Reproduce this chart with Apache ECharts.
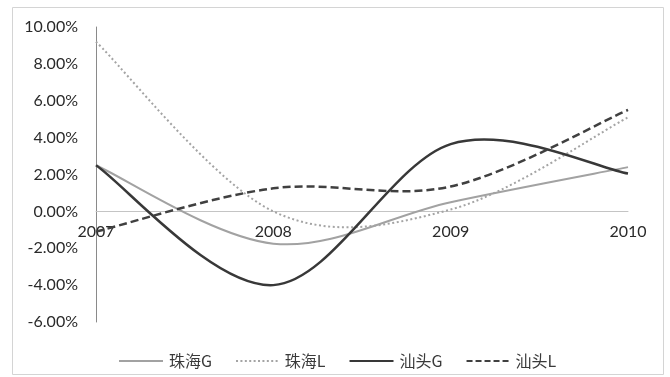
<!DOCTYPE html>
<html>
<head>
<meta charset="utf-8">
<script src="https://cdn.jsdelivr.net/npm/echarts@6/dist/echarts.min.js"></script>
<style>
  html, body { margin: 0; padding: 0; background: #fff; }
  #chart { width: 670px; height: 377px; }
</style>
</head>
<body>
<div id="chart"></div>
<script>
// Years on the category axis
const years = ['2007', '2008', '2009', '2010'];
// Growth rates, in percent
const zhuhaiG = [2.5, -1.75, 0.5, 2.4];
const zhuhaiL = [9.2, 0.0, 0.1, 5.1];
const shantouG = [2.5, -4.0, 3.65, 2.05];
const shantouL = [-1.1, 1.25, 1.35, 5.5];
// Value axis range and step
const yMin = -6, yMax = 10, yStep = 2;

const font = '"Lato", "Noto Sans CJK SC", sans-serif';
const cjkFont = '"Noto Sans CJK SC", "Lato", sans-serif';

const chart = echarts.init(document.getElementById('chart'), null, { renderer: 'canvas' });

// Cardinal (Catmull-Rom) spline through the projected points, allowing the
// curve to swing past the data points the way spreadsheet smoothing does.
function splinePath(api, values) {
  const pts = values.map((v, i) => api.coord([i, v]));
  const n = pts.length;
  let d = 'M' + pts[0][0] + ',' + pts[0][1];
  for (let i = 0; i < n - 1; i++) {
    const p0 = pts[Math.max(i - 1, 0)];
    const p1 = pts[i];
    const p2 = pts[i + 1];
    const p3 = pts[Math.min(i + 2, n - 1)];
    const c1x = p1[0] + (p2[0] - p0[0]) / 6;
    const c1y = p1[1] + (p2[1] - p0[1]) / 6;
    const c2x = p2[0] - (p3[0] - p1[0]) / 6;
    const c2y = p2[1] - (p3[1] - p1[1]) / 6;
    d += 'C' + c1x + ',' + c1y + ',' + c2x + ',' + c2y + ',' + p2[0] + ',' + p2[1];
  }
  return d;
}

function curve(name, values, color, width, dash) {
  return {
    name, type: 'custom', coordinateSystem: 'cartesian2d',
    data: values.map((v, i) => [i, v]),
    encode: { x: 0, y: 1 },
    itemStyle: { color },
    silent: true,
    renderItem: (params, api) => {
      if (params.dataIndex !== 0) return null;
      return {
        type: 'path',
        shape: { pathData: splinePath(api, values) },
        style: {
          fill: 'none', stroke: color, lineWidth: width,
          lineDash: dash, lineCap: 'butt', lineJoin: 'round'
        }
      };
    }
  };
}

// Legend glyphs: a solid bar, a row of dots, a row of dashes
function segs(len, gap, total) {
  let p = 'path://';
  for (let x = 0; x + len <= total; x += len + gap) {
    p += 'M' + x + ',0h' + len + 'v2h-' + len + 'z';
  }
  return p;
}
const iconSolid = 'path://M0,0h44v2h-44z';
const iconDot = segs(2, 2.4, 44);
const iconDash = segs(6, 3, 44);

chart.setOption({
  animation: false,
  backgroundColor: '#fff',
  graphic: [{
    type: 'rect', silent: true, z: -1,
    shape: { x: 12.5, y: 7.5, width: 651, height: 367 },
    style: { fill: 'none', stroke: '#d4d4d4', lineWidth: 1 }
  }],
  grid: { left: 96, right: 42, top: 27, bottom: 55 },
  xAxis: {
    type: 'category', data: years, boundaryGap: false,
    axisLine: { onZero: true, lineStyle: { color: '#c4c4c4', width: 1 } },
    axisTick: { show: false },
    axisLabel: {
      color: '#2a2a2a', fontSize: 16, fontFamily: font,
      margin: -98, verticalAlign: 'top'
    },
    splitLine: { show: false }
  },
  yAxis: {
    type: 'value', min: yMin, max: yMax, interval: yStep,
    axisLine: { show: true, lineStyle: { color: '#8a8a8a', width: 1 } },
    axisTick: { show: false },
    axisLabel: {
      color: '#2a2a2a', fontSize: 16, fontFamily: font, margin: 18,
      formatter: v => v.toFixed(2) + '%'
    },
    splitLine: { show: false }
  },
  legend: {
    left: 114, top: 348, itemWidth: 44, itemHeight: 2, itemGap: 24,
    textStyle: { color: '#3a3a3a', fontSize: 16, fontFamily: cjkFont, padding: [0, 0, 0, 1] },
    data: [
      { name: '珠海G', icon: iconSolid },
      { name: '珠海L', icon: iconDot },
      { name: '汕头G', icon: iconSolid },
      { name: '汕头L', icon: iconDash }
    ]
  },
  series: [
    curve('珠海G', zhuhaiG, '#a2a2a2', 2, null),
    curve('珠海L', zhuhaiL, '#a4a4a4', 2, [2, 2.6]),
    curve('汕头G', shantouG, '#383838', 2.5, null),
    curve('汕头L', shantouL, '#404040', 2.5, [8, 4])
  ]
});
</script>
</body>
</html>
